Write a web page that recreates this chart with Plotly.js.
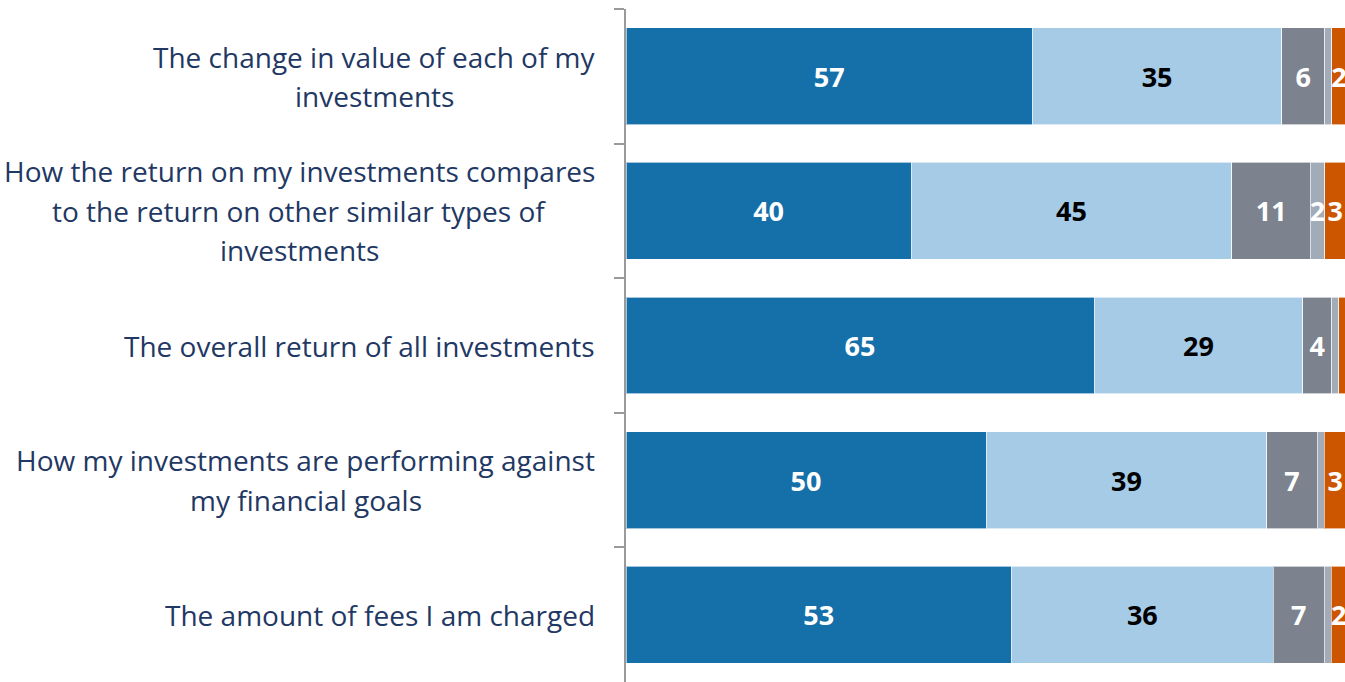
<!DOCTYPE html>
<html>
<head>
<meta charset="utf-8">
<script src="https://cdn.plot.ly/plotly-3.0.1.min.js"></script>
<style>html,body{margin:0;padding:0;background:#fff;overflow:hidden;}#chart{width:1346px;height:682px;}</style>
</head>
<body>
<div id="chart"></div>
<script>
// ---- data ----
const categories = [
  "The change in value of each of my<br>investments",
  "How the return on my investments compares<br>to the return on other similar types of<br>investments",
  "The overall return of all investments",
  "How my investments are performing against<br>my financial goals",
  "The amount of fees I am charged"
];
const seriesNames = ["Series 1", "Series 2", "Series 3", "Series 4", "Series 5"];
const series1 = [57, 40, 65, 50, 53];
const series2 = [35, 45, 29, 39, 36];
const series3 = [6, 11, 4, 7, 7];
const series4 = [1, 2, 1, 1, 1];
const series5 = [2, 3, 1, 3, 2];

// ---- styles ----
const colors = ["#1570AA", "#A6CBE7", "#7C838E", "#A2ABB8", "#CC5500"];
const textColors = ["#ffffff", "#000000", "#ffffff", "#ffffff", "#ffffff"];
const allSeries = [series1, series2, series3, series4, series5];
const labelFont = "Open Sans";
const catFontSize = 28;
const numFontSize = 27;
const lineGap = 39.5;

const traces = allSeries.map((vals, i) => ({
  type: "bar",
  orientation: "h",
  name: seriesNames[i],
  y: categories,
  x: vals,
  text: vals.map(v => v >= 2 ? String(v) : ""),
  texttemplate: "%{text}",
  textposition: "inside",
  insidetextanchor: "middle",
  constraintext: "none",
  textangle: 0,
  cliponaxis: false,
  textfont: {family: labelFont, size: numFontSize, color: textColors[i], weight: "bold"},
  marker: {color: colors[i], line: {color: "rgba(255,255,255,0.6)", width: 1}},
  hoverinfo: "x+y+name"
}));

// category labels: centered lines, block right-aligned to the axis
const canvas = document.createElement("canvas");
const ctx = canvas.getContext("2d");
ctx.font = catFontSize + "px '" + labelFont + "'";
const annotations = [];
categories.forEach(cat => {
  const lines = cat.split("<br>");
  const blockW = Math.max(...lines.map(l => ctx.measureText(l).width));
  lines.forEach((line, k) => {
    annotations.push({
      xref: "paper", yref: "y", x: 0, y: cat,
      text: line, showarrow: false,
      xanchor: "center", yanchor: "middle",
      xshift: -31 - blockW / 2,
      yshift: ((lines.length - 1) / 2 - k) * lineGap,
      font: {family: labelFont, size: catFontSize, color: "#1F3864"}
    });
  });
});

const layout = {
  width: 1346, height: 682,
  margin: {l: 626, r: 0, t: 9, b: 0},
  paper_bgcolor: "#ffffff", plot_bgcolor: "#ffffff",
  barmode: "stack",
  barnorm: "percent",
  bargap: 0.28,
  showlegend: false,
  xaxis: {range: [0, 100.001], visible: false, fixedrange: true},
  yaxis: {
    type: "category", autorange: "reversed",
    showticklabels: false,
    ticks: "outside", tickson: "boundaries", ticklen: 10, tickwidth: 2, tickcolor: "#9a9a9a",
    showline: true, linecolor: "#9a9a9a", linewidth: 2,
    showgrid: false, zeroline: false, fixedrange: true
  },
  annotations: annotations
};

Plotly.newPlot("chart", traces, layout, {displayModeBar: false, staticPlot: true});
</script>
</body>
</html>
